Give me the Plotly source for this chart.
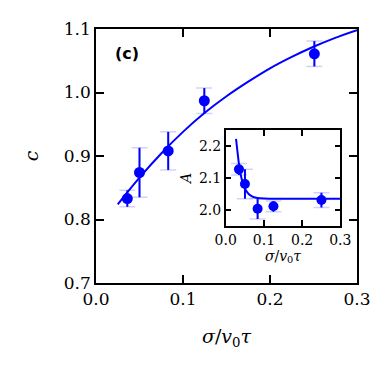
import plotly.graph_objects as go

# main panel: c vs sigma/(v0 tau)
x_main = [0.036, 0.050, 0.083, 0.1245, 0.251]
c_main = [0.833, 0.874, 0.908, 0.987, 1.061]
c_err = [0.013, 0.039, 0.030, 0.020, 0.020]

fit_x = [0.025, 0.05, 0.075, 0.1, 0.125, 0.15, 0.175, 0.2, 0.225, 0.25, 0.275, 0.3]
fit_c = [0.824, 0.866, 0.904, 0.938, 0.968, 0.994, 1.017, 1.038, 1.056, 1.072, 1.086, 1.098]

# inset: A vs sigma/(v0 tau)
x_inset = [0.0347, 0.0504, 0.0835, 0.125, 0.2506]
a_inset = [2.127, 2.081, 2.004, 2.0115, 2.031]
a_err = [0.018, 0.046, 0.032, 0.017, 0.023]

fit_ix = [0.027, 0.031, 0.035, 0.040, 0.045, 0.050, 0.055, 0.060, 0.070, 0.080, 0.100, 0.150, 0.300]
fit_a = [2.222, 2.180, 2.140, 2.106, 2.083, 2.068, 2.058, 2.050, 2.042, 2.0385, 2.036, 2.035, 2.035]

BLUE = "#0000ff"
FAINT = "rgba(0,0,255,0.18)"
FONT = "DejaVu Serif"

fig = go.Figure()

# main: fit line, faint caps, solid bars
fig.add_trace(go.Scatter(x=fit_x, y=fit_c, mode="lines", line=dict(color=BLUE, width=2, shape="spline"),
                         xaxis="x", yaxis="y", showlegend=False, hoverinfo="skip"))
fig.add_trace(go.Scatter(x=x_main, y=c_main, mode="markers", marker=dict(size=0.1, color=FAINT),
                         error_y=dict(type="data", array=c_err, color=FAINT, thickness=1.5, width=8),
                         xaxis="x", yaxis="y", showlegend=False))
fig.add_trace(go.Scatter(x=x_main, y=c_main, mode="markers", marker=dict(size=11, color=BLUE),
                         error_y=dict(type="data", array=c_err, color=BLUE, thickness=2, width=0),
                         xaxis="x", yaxis="y", showlegend=False))

# inset
fig.add_trace(go.Scatter(x=fit_ix, y=fit_a, mode="lines", line=dict(color=BLUE, width=2, shape="spline"),
                         xaxis="x2", yaxis="y2", showlegend=False, hoverinfo="skip"))
fig.add_trace(go.Scatter(x=x_inset, y=a_inset, mode="markers", marker=dict(size=0.1, color=FAINT),
                         error_y=dict(type="data", array=a_err, color=FAINT, thickness=1.5, width=8),
                         xaxis="x2", yaxis="y2", showlegend=False))
fig.add_trace(go.Scatter(x=x_inset, y=a_inset, mode="markers", marker=dict(size=10, color=BLUE),
                         error_y=dict(type="data", array=a_err, color=BLUE, thickness=2, width=0),
                         xaxis="x2", yaxis="y2", showlegend=False))

axis_common = dict(showline=True, linecolor="black", linewidth=1.5, mirror="ticks",
                   ticks="inside", tickcolor="black", tickwidth=1.5, showgrid=False, zeroline=False)

# page body adds an 8px offset, so the figure is sized to fit inside the window
fig.update_layout(
    width=382, height=366,
    margin=dict(l=88, r=33, t=21, b=91),
    paper_bgcolor="white", plot_bgcolor="white",
    font=dict(family=FONT, color="black"),
    xaxis=dict(axis_common, domain=[0, 1], range=[0, 0.3], tickvals=[0, 0.1, 0.2, 0.3],
               ticktext=["0.0", "0.1", "0.2", "0.3"], ticklen=8, tickfont=dict(size=17),
               title=dict(text="<i>σ</i>/<i>v</i><sub>0</sub><i>τ</i>", font=dict(size=19), standoff=22),
               anchor="y"),
    yaxis=dict(axis_common, domain=[0, 1], range=[0.7, 1.1], tickvals=[0.7, 0.8, 0.9, 1.0, 1.1],
               ticktext=["0.7", "0.8", "0.9", "1.0", "1.1"], ticklen=8, tickfont=dict(size=17),
               title=dict(text="<i>c</i>", font=dict(size=19), standoff=20),
               anchor="x"),
    xaxis2=dict(axis_common, domain=[0.497, 0.936], range=[0, 0.3], tickvals=[0, 0.1, 0.2, 0.3],
                ticktext=["0.0", "0.1", "0.2", "0.3"], ticklen=6, tickfont=dict(size=14),
                title=dict(text="<i>σ</i>/<i>v</i><sub>0</sub><i>τ</i>", font=dict(size=14), standoff=2),
                anchor="y2"),
    yaxis2=dict(axis_common, domain=[0.2244, 0.6024], range=[1.95, 2.25], tickvals=[2.0, 2.1, 2.2],
                ticktext=["2.0", "2.1", "2.2"], ticklen=6, tickfont=dict(size=14),
                title=dict(text="<i>A</i>", font=dict(size=14), standoff=4),
                anchor="x2"),
    annotations=[dict(text="<b>(c)</b>", x=0.065, y=0.9016, xref="paper", yref="paper",
                      xanchor="left", yanchor="middle", showarrow=False,
                      font=dict(family="DejaVu Sans", size=16, color="black"))],
)

fig.write_html("out.html")
